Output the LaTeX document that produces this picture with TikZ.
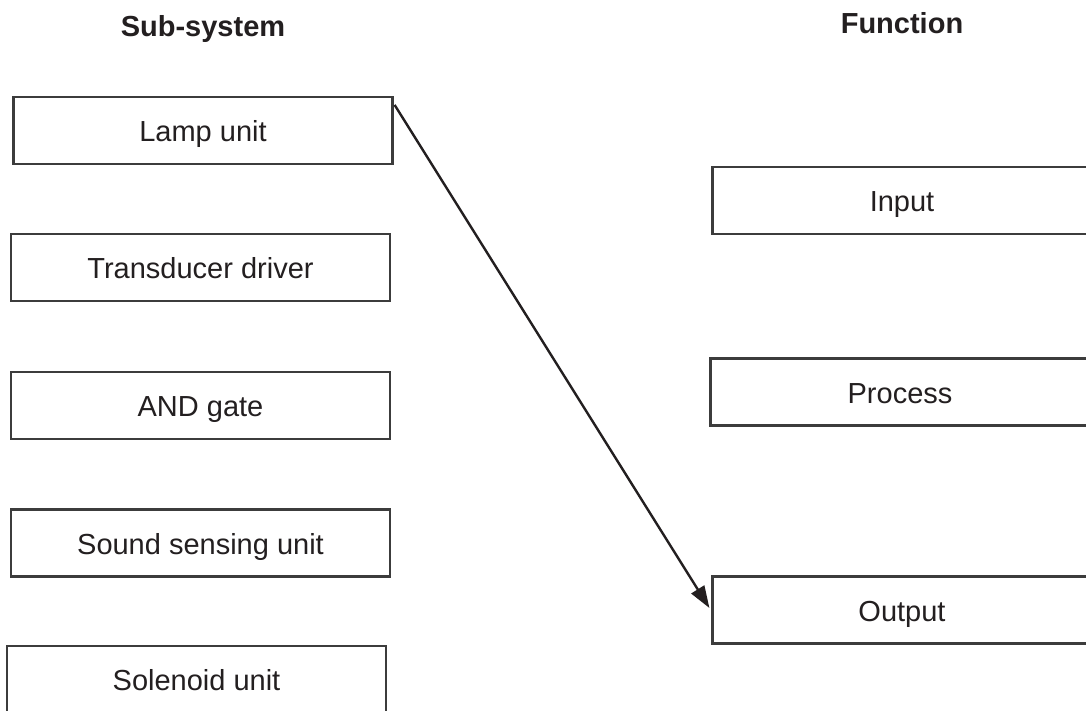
\documentclass[tikz,border=0pt]{standalone}
\usepackage{fontspec}
\setmainfont{Liberation Sans}
\usetikzlibrary{arrows.meta}
\definecolor{ink}{HTML}{231F20}
\definecolor{frame}{HTML}{3C3C3C}
\begin{document}
\begin{tikzpicture}[x=0.5pt,y=-0.5pt,
  every node/.style={font=\fontsize{14.5}{17}\selectfont, text=ink,
    text height=0.716em+4pt, text depth=0pt, inner sep=0pt},
  unitbox/.style={draw=frame, line width=1.1pt, minimum width=189.5pt,
    minimum height=33.5pt, fill=white},
  heading/.style={font=\fontsize{14.5}{17}\selectfont\bfseries},
  link/.style={line width=1.2pt, draw=ink,
    -{Triangle[length=11pt,width=7.5pt]}}]
\useasboundingbox (0,0) rectangle (1086,711);
\clip (0,0) rectangle (1086,711);
\fill[white] (0,0) rectangle (1086,711);

% column headings
\node[heading] (hsub) at (203,25.5) {Sub-system};
\node[heading] (hfun) at (902,22.5) {Function};

% sub-system boxes
\node[unitbox] (lamp)  at (203,130.5)   {Lamp unit};
\node[unitbox] (trans) at (200.5,267.5) {Transducer driver};
\node[unitbox] (andg)  at (200.5,405.5) {AND gate};
\node[unitbox] (sound) at (200.5,543)   {Sound sensing unit};
\node[unitbox] (sol)   at (196.5,679.5) {Solenoid unit};

% function boxes
\node[unitbox] (inp)  at (902,200.5) {Input};
\node[unitbox] (proc) at (900,392)   {Process};
\node[unitbox] (outp) at (902,610)   {Output};

% example link
\coordinate (lampout) at ([xshift=0.5pt,yshift=-4.5pt]lamp.north east);
\draw[link] (lampout) -- ([xshift=-1pt,yshift=1pt]outp.west);
\end{tikzpicture}
\end{document}
